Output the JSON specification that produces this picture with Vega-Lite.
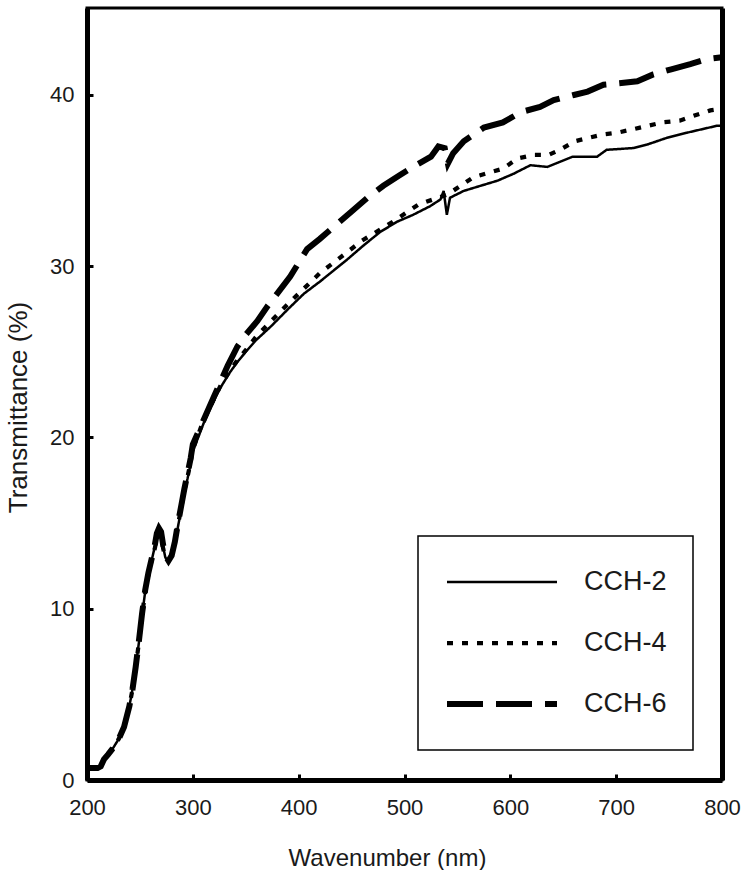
{
  "$schema": "https://vega.github.io/schema/vega-lite/v6.json",
  "width": 635,
  "height": 772,
  "padding": {"left": 5, "top": 8, "right": 5, "bottom": 5},
  "background": "white",
  "datasets": {
    "spectra": [
      {"series": "CCH-2", "wl": 200, "t": 0.7}, {"series": "CCH-2", "wl": 205, "t": 0.7}, {"series": "CCH-2", "wl": 210, "t": 0.7}, {"series": "CCH-2", "wl": 213, "t": 0.8}, {"series": "CCH-2", "wl": 216, "t": 1.2}, {"series": "CCH-2", "wl": 220, "t": 1.5}, {"series": "CCH-2", "wl": 225, "t": 1.9}, {"series": "CCH-2", "wl": 230, "t": 2.4}, {"series": "CCH-2", "wl": 235, "t": 3.1}, {"series": "CCH-2", "wl": 240, "t": 4.3}, {"series": "CCH-2", "wl": 243, "t": 5.3}, {"series": "CCH-2", "wl": 246, "t": 6.6}, {"series": "CCH-2", "wl": 249, "t": 8.0}, {"series": "CCH-2", "wl": 252, "t": 9.6}, {"series": "CCH-2", "wl": 255, "t": 11.0}, {"series": "CCH-2", "wl": 258, "t": 12.0}, {"series": "CCH-2", "wl": 261, "t": 12.8}, {"series": "CCH-2", "wl": 264, "t": 13.6}, {"series": "CCH-2", "wl": 266, "t": 14.3}, {"series": "CCH-2", "wl": 268, "t": 14.6}, {"series": "CCH-2", "wl": 270, "t": 14.4}, {"series": "CCH-2", "wl": 272, "t": 13.6}, {"series": "CCH-2", "wl": 274, "t": 13.0}, {"series": "CCH-2", "wl": 277, "t": 12.7}, {"series": "CCH-2", "wl": 280, "t": 13.0}, {"series": "CCH-2", "wl": 283, "t": 13.8}, {"series": "CCH-2", "wl": 286, "t": 14.8}, {"series": "CCH-2", "wl": 289, "t": 15.8}, {"series": "CCH-2", "wl": 292, "t": 16.8}, {"series": "CCH-2", "wl": 295, "t": 17.6}, {"series": "CCH-2", "wl": 298, "t": 18.5},
      {"series": "CCH-2", "wl": 300, "t": 19.2}, {"series": "CCH-2", "wl": 305, "t": 20.0}, {"series": "CCH-2", "wl": 310, "t": 20.8}, {"series": "CCH-2", "wl": 318, "t": 21.9}, {"series": "CCH-2", "wl": 326, "t": 22.9}, {"series": "CCH-2", "wl": 335, "t": 23.8}, {"series": "CCH-2", "wl": 342, "t": 24.4}, {"series": "CCH-2", "wl": 350, "t": 25.0}, {"series": "CCH-2", "wl": 360, "t": 25.7}, {"series": "CCH-2", "wl": 374, "t": 26.5}, {"series": "CCH-2", "wl": 390, "t": 27.5}, {"series": "CCH-2", "wl": 405, "t": 28.4}, {"series": "CCH-2", "wl": 420, "t": 29.1}, {"series": "CCH-2", "wl": 430, "t": 29.6}, {"series": "CCH-2", "wl": 446, "t": 30.4}, {"series": "CCH-2", "wl": 461, "t": 31.2}, {"series": "CCH-2", "wl": 477, "t": 32.0}, {"series": "CCH-2", "wl": 493, "t": 32.6}, {"series": "CCH-2", "wl": 508, "t": 33.0}, {"series": "CCH-2", "wl": 524, "t": 33.5}, {"series": "CCH-2", "wl": 534, "t": 33.9}, {"series": "CCH-2", "wl": 537, "t": 34.4}, {"series": "CCH-2", "wl": 540, "t": 33.0}, {"series": "CCH-2", "wl": 543, "t": 34.0}, {"series": "CCH-2", "wl": 556, "t": 34.4}, {"series": "CCH-2", "wl": 572, "t": 34.7}, {"series": "CCH-2", "wl": 588, "t": 35.0}, {"series": "CCH-2", "wl": 603, "t": 35.4}, {"series": "CCH-2", "wl": 619, "t": 35.9}, {"series": "CCH-2", "wl": 635, "t": 35.8}, {"series": "CCH-2", "wl": 659, "t": 36.4}, {"series": "CCH-2", "wl": 682, "t": 36.4}, {"series": "CCH-2", "wl": 691, "t": 36.8}, {"series": "CCH-2", "wl": 716, "t": 36.9}, {"series": "CCH-2", "wl": 729, "t": 37.1}, {"series": "CCH-2", "wl": 748, "t": 37.5}, {"series": "CCH-2", "wl": 767, "t": 37.8}, {"series": "CCH-2", "wl": 795, "t": 38.2}, {"series": "CCH-2", "wl": 800, "t": 38.2},

      {"series": "CCH-4", "wl": 200, "t": 0.7}, {"series": "CCH-4", "wl": 205, "t": 0.7}, {"series": "CCH-4", "wl": 210, "t": 0.7}, {"series": "CCH-4", "wl": 213, "t": 0.8}, {"series": "CCH-4", "wl": 216, "t": 1.2}, {"series": "CCH-4", "wl": 220, "t": 1.5}, {"series": "CCH-4", "wl": 225, "t": 1.9}, {"series": "CCH-4", "wl": 230, "t": 2.4}, {"series": "CCH-4", "wl": 235, "t": 3.1}, {"series": "CCH-4", "wl": 240, "t": 4.3}, {"series": "CCH-4", "wl": 243, "t": 5.3}, {"series": "CCH-4", "wl": 246, "t": 6.6}, {"series": "CCH-4", "wl": 249, "t": 8.0}, {"series": "CCH-4", "wl": 252, "t": 9.6}, {"series": "CCH-4", "wl": 255, "t": 11.0}, {"series": "CCH-4", "wl": 258, "t": 12.0}, {"series": "CCH-4", "wl": 261, "t": 12.8}, {"series": "CCH-4", "wl": 264, "t": 13.5}, {"series": "CCH-4", "wl": 266, "t": 14.1}, {"series": "CCH-4", "wl": 268, "t": 14.4}, {"series": "CCH-4", "wl": 270, "t": 14.2}, {"series": "CCH-4", "wl": 272, "t": 13.5}, {"series": "CCH-4", "wl": 274, "t": 13.0}, {"series": "CCH-4", "wl": 277, "t": 12.8}, {"series": "CCH-4", "wl": 280, "t": 13.1}, {"series": "CCH-4", "wl": 283, "t": 13.9}, {"series": "CCH-4", "wl": 286, "t": 14.9}, {"series": "CCH-4", "wl": 289, "t": 15.9}, {"series": "CCH-4", "wl": 292, "t": 16.9}, {"series": "CCH-4", "wl": 295, "t": 17.7}, {"series": "CCH-4", "wl": 298, "t": 18.6},
      {"series": "CCH-4", "wl": 300, "t": 19.3}, {"series": "CCH-4", "wl": 310, "t": 21.0}, {"series": "CCH-4", "wl": 318, "t": 22.0}, {"series": "CCH-4", "wl": 326, "t": 23.0}, {"series": "CCH-4", "wl": 335, "t": 23.9}, {"series": "CCH-4", "wl": 342, "t": 24.5}, {"series": "CCH-4", "wl": 350, "t": 25.1}, {"series": "CCH-4", "wl": 360, "t": 25.9}, {"series": "CCH-4", "wl": 374, "t": 26.8}, {"series": "CCH-4", "wl": 390, "t": 27.8}, {"series": "CCH-4", "wl": 405, "t": 28.7}, {"series": "CCH-4", "wl": 420, "t": 29.6}, {"series": "CCH-4", "wl": 437, "t": 30.4}, {"series": "CCH-4", "wl": 460, "t": 31.5}, {"series": "CCH-4", "wl": 489, "t": 32.6}, {"series": "CCH-4", "wl": 513, "t": 33.6}, {"series": "CCH-4", "wl": 541, "t": 34.2}, {"series": "CCH-4", "wl": 565, "t": 35.2}, {"series": "CCH-4", "wl": 593, "t": 35.7}, {"series": "CCH-4", "wl": 607, "t": 36.3}, {"series": "CCH-4", "wl": 622, "t": 36.5}, {"series": "CCH-4", "wl": 636, "t": 36.5}, {"series": "CCH-4", "wl": 647, "t": 36.8}, {"series": "CCH-4", "wl": 661, "t": 37.3}, {"series": "CCH-4", "wl": 674, "t": 37.5}, {"series": "CCH-4", "wl": 688, "t": 37.7}, {"series": "CCH-4", "wl": 701, "t": 37.8}, {"series": "CCH-4", "wl": 716, "t": 38.0}, {"series": "CCH-4", "wl": 730, "t": 38.2}, {"series": "CCH-4", "wl": 744, "t": 38.4}, {"series": "CCH-4", "wl": 760, "t": 38.5}, {"series": "CCH-4", "wl": 774, "t": 38.8}, {"series": "CCH-4", "wl": 789, "t": 39.1}, {"series": "CCH-4", "wl": 800, "t": 39.2},

      {"series": "CCH-6", "wl": 200, "t": 0.7}, {"series": "CCH-6", "wl": 205, "t": 0.7}, {"series": "CCH-6", "wl": 210, "t": 0.7}, {"series": "CCH-6", "wl": 213, "t": 0.8}, {"series": "CCH-6", "wl": 216, "t": 1.2}, {"series": "CCH-6", "wl": 220, "t": 1.5}, {"series": "CCH-6", "wl": 225, "t": 1.9}, {"series": "CCH-6", "wl": 230, "t": 2.4}, {"series": "CCH-6", "wl": 235, "t": 3.1}, {"series": "CCH-6", "wl": 240, "t": 4.3}, {"series": "CCH-6", "wl": 243, "t": 5.3}, {"series": "CCH-6", "wl": 246, "t": 6.6}, {"series": "CCH-6", "wl": 249, "t": 8.1}, {"series": "CCH-6", "wl": 252, "t": 9.7}, {"series": "CCH-6", "wl": 255, "t": 11.1}, {"series": "CCH-6", "wl": 258, "t": 12.1}, {"series": "CCH-6", "wl": 261, "t": 12.9}, {"series": "CCH-6", "wl": 264, "t": 13.7}, {"series": "CCH-6", "wl": 266, "t": 14.4}, {"series": "CCH-6", "wl": 268, "t": 14.7}, {"series": "CCH-6", "wl": 270, "t": 14.5}, {"series": "CCH-6", "wl": 272, "t": 13.7}, {"series": "CCH-6", "wl": 274, "t": 13.1}, {"series": "CCH-6", "wl": 277, "t": 12.8}, {"series": "CCH-6", "wl": 280, "t": 13.1}, {"series": "CCH-6", "wl": 283, "t": 13.9}, {"series": "CCH-6", "wl": 286, "t": 15.0}, {"series": "CCH-6", "wl": 289, "t": 16.0}, {"series": "CCH-6", "wl": 292, "t": 17.0}, {"series": "CCH-6", "wl": 295, "t": 17.9}, {"series": "CCH-6", "wl": 298, "t": 18.8},
      {"series": "CCH-6", "wl": 300, "t": 19.6}, {"series": "CCH-6", "wl": 310, "t": 21.0}, {"series": "CCH-6", "wl": 320, "t": 22.4}, {"series": "CCH-6", "wl": 333, "t": 24.2}, {"series": "CCH-6", "wl": 342, "t": 25.3}, {"series": "CCH-6", "wl": 350, "t": 26.0}, {"series": "CCH-6", "wl": 361, "t": 26.8}, {"series": "CCH-6", "wl": 371, "t": 27.7}, {"series": "CCH-6", "wl": 392, "t": 29.4}, {"series": "CCH-6", "wl": 408, "t": 31.0}, {"series": "CCH-6", "wl": 420, "t": 31.6}, {"series": "CCH-6", "wl": 437, "t": 32.5}, {"series": "CCH-6", "wl": 450, "t": 33.2}, {"series": "CCH-6", "wl": 465, "t": 34.0}, {"series": "CCH-6", "wl": 480, "t": 34.7}, {"series": "CCH-6", "wl": 495, "t": 35.3}, {"series": "CCH-6", "wl": 508, "t": 35.8}, {"series": "CCH-6", "wl": 525, "t": 36.4}, {"series": "CCH-6", "wl": 532, "t": 37.0}, {"series": "CCH-6", "wl": 538, "t": 36.9}, {"series": "CCH-6", "wl": 541, "t": 36.0}, {"series": "CCH-6", "wl": 546, "t": 36.6}, {"series": "CCH-6", "wl": 556, "t": 37.3}, {"series": "CCH-6", "wl": 575, "t": 38.1}, {"series": "CCH-6", "wl": 593, "t": 38.4}, {"series": "CCH-6", "wl": 610, "t": 39.0}, {"series": "CCH-6", "wl": 628, "t": 39.3}, {"series": "CCH-6", "wl": 641, "t": 39.7}, {"series": "CCH-6", "wl": 660, "t": 40.0}, {"series": "CCH-6", "wl": 673, "t": 40.2}, {"series": "CCH-6", "wl": 688, "t": 40.6}, {"series": "CCH-6", "wl": 705, "t": 40.7}, {"series": "CCH-6", "wl": 720, "t": 40.8}, {"series": "CCH-6", "wl": 735, "t": 41.2}, {"series": "CCH-6", "wl": 752, "t": 41.5}, {"series": "CCH-6", "wl": 770, "t": 41.8}, {"series": "CCH-6", "wl": 786, "t": 42.1}, {"series": "CCH-6", "wl": 800, "t": 42.2}
    ]
  },
  "data": {"name": "spectra"},
  "layer": [
    {
      "mark": {"type": "line", "color": "black", "strokeCap": "butt", "strokeJoin": "miter"},
      "encoding": {
        "x": {
          "field": "wl", "type": "quantitative",
          "scale": {"domain": [200, 800], "nice": false, "zero": false},
          "axis": {"values": [200, 300, 400, 500, 600, 700, 800], "title": "Wavenumber (nm)", "titleX": 300, "titlePadding": 28, "labelPadding": 23, "labelFlush": false}
        },
        "y": {
          "field": "t", "type": "quantitative",
          "scale": {"domain": [0, 45.08], "nice": false},
          "axis": {"values": [0, 10, 20, 30, 40], "title": "Transmittance (%)", "titleY": 399, "titleFontSize": 26, "titlePadding": 18, "labelPadding": 19, "labelFlush": false}
        },
        "strokeDash": {
          "field": "series", "type": "nominal",
          "scale": {"domain": ["CCH-2", "CCH-4", "CCH-6"], "range": [[1, 0], [6, 9], [36, 13]]},
          "legend": {"title": null}
        },
        "strokeWidth": {
          "field": "series", "type": "nominal",
          "scale": {"domain": ["CCH-2", "CCH-4", "CCH-6"], "range": [2.5, 6, 5]},
          "legend": {"title": null}
        }
      }
    },
    {
      "mark": {"type": "line", "opacity": 0},
      "encoding": {
        "x": {"field": "wl", "type": "quantitative"},
        "y": {
          "field": "t", "type": "quantitative",
          "axis": {"orient": "right", "labels": false, "ticks": false, "title": null, "domainWidth": 5}
        }
      }
    }
  ],
  "resolve": {"axis": {"y": "independent"}},
  "config": {
    "view": {"stroke": "black", "strokeWidth": 3},
    "font": "Liberation Sans",
    "axis": {
      "grid": false,
      "domainColor": "black",
      "domainWidth": 5,
      "tickColor": "black",
      "tickWidth": 3,
      "tickSize": -6,
      "labelFont": "Liberation Sans",
      "labelFontSize": 22,
      "labelColor": "#1a1a1a",
      "titleFont": "Liberation Sans",
      "titleFontSize": 24,
      "titleFontWeight": "normal",
      "titleColor": "#1a1a1a"
    },
    "legend": {
      "orient": "none",
      "legendX": 331,
      "legendY": 528,
      "strokeColor": "black",
      "strokeWidth": 1.5,
      "fillColor": "white",
      "padding": 26,
      "symbolType": "stroke",
      "symbolSize": 12100,
      "symbolStrokeColor": "black",
      "clipHeight": 40,
      "rowPadding": 21,
      "labelOffset": 24,
      "labelFont": "Liberation Sans",
      "labelFontSize": 27,
      "labelColor": "#1a1a1a"
    }
  }
}
